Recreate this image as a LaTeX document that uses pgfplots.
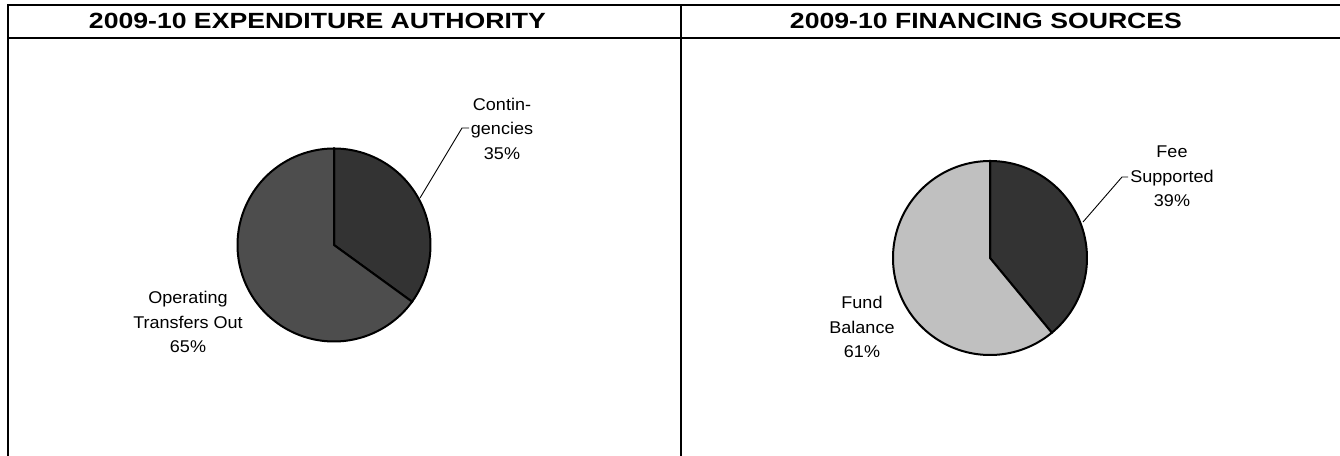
\documentclass[border=0pt]{standalone}
\usepackage{fontspec}
\setmainfont{Liberation Sans}
\newfontfamily\titlefont{Liberation Sans}[FakeStretch=1.21]
\newfontfamily\lblfont{Liberation Sans}[FakeStretch=1.06]
\usepackage{pgfplots}
\pgfplotsset{compat=1.18}
\definecolor{dark}{HTML}{333333}
\definecolor{mid}{HTML}{4D4D4D}
\definecolor{light}{HTML}{C0C0C0}
% data (percent of each pie)
\def\contPct{35}   % Contingencies
\def\optPct{65}    % Operating Transfers Out
\def\feePct{39}    % Fee Supported
\def\fundPct{61}   % Fund Balance
\newcommand\lbl[5]{%
  \node[anchor=base,inner sep=0pt,font=\lblfont\fontsize{17bp}{20bp}\selectfont] at (axis cs:#1,{-#2}) {#3};
  \node[anchor=base,inner sep=0pt,font=\lblfont\fontsize{17bp}{20bp}\selectfont] at (axis cs:#1,{-#2-24.5}) {#4};
  \node[anchor=base,inner sep=0pt,font=\lblfont\fontsize{17bp}{20bp}\selectfont] at (axis cs:#1,{-#2-49}) {#5};
}
\begin{document}
\begin{tikzpicture}
\useasboundingbox (0,0) rectangle (1340bp,456bp);
\begin{axis}[
  at={(0,0)}, anchor=south west,
  width=1340bp, height=456bp, scale only axis,
  xmin=0, xmax=1340, ymin=-456, ymax=0,
  hide axis, clip=false,
]
% frame
\draw[line width=2bp] (axis cs:8,-5.5) -- (axis cs:1345,-5.5);
\draw[line width=2bp] (axis cs:8,-38) -- (axis cs:1345,-38);
\draw[line width=2bp] (axis cs:8,-4.5) -- (axis cs:8,-460);
\draw[line width=2bp] (axis cs:681,-4.5) -- (axis cs:681,-460);
% titles
\node[anchor=base,inner sep=0pt,font=\titlefont\bfseries\fontsize{22bp}{24bp}\selectfont] at (axis cs:317.5,-28.5) {2009-10 EXPENDITURE AUTHORITY};
\node[anchor=base,inner sep=0pt,font=\titlefont\bfseries\fontsize{22bp}{24bp}\selectfont] at (axis cs:986,-28.5) {2009-10 FINANCING SOURCES};
% pie 1
\addplot[fill=dark, draw=black, line width=2bp, domain={90-3.6*\contPct}:90, samples=120, variable=\t]
  ({334+96.5*cos(\t)},{-245+96.5*sin(\t)}) -- (axis cs:334,-245) -- cycle;
\addplot[fill=mid, draw=black, line width=2bp, domain={90-3.6*(\contPct+\optPct)}:{90-3.6*\contPct}, samples=200, variable=\t]
  ({334+96.5*cos(\t)},{-245+96.5*sin(\t)}) -- (axis cs:334,-245) -- cycle;
% pie 2
\addplot[fill=dark, draw=black, line width=2bp, domain={90-3.6*\feePct}:90, samples=120, variable=\t]
  ({990+97*cos(\t)},{-258+97*sin(\t)}) -- (axis cs:990,-258) -- cycle;
\addplot[fill=light, draw=black, line width=2bp, domain={90-3.6*(\feePct+\fundPct)}:{90-3.6*\feePct}, samples=200, variable=\t]
  ({990+97*cos(\t)},{-258+97*sin(\t)}) -- (axis cs:990,-258) -- cycle;
% leader lines
\draw[line width=0.9bp] (axis cs:420,-198) -- (axis cs:462,-128) -- (axis cs:469,-128);
\draw[line width=0.9bp] (axis cs:1083,-222) -- (axis cs:1122,-177) -- (axis cs:1128,-177);
% labels
\lbl{502}{110.5}{Contin-}{gencies}{35\%}
\lbl{188}{304}{Operating}{Transfers Out}{65\%}
\lbl{1172}{158}{Fee}{Supported}{39\%}
\lbl{862}{309}{Fund}{Balance}{61\%}
\end{axis}
\end{tikzpicture}
\end{document}
